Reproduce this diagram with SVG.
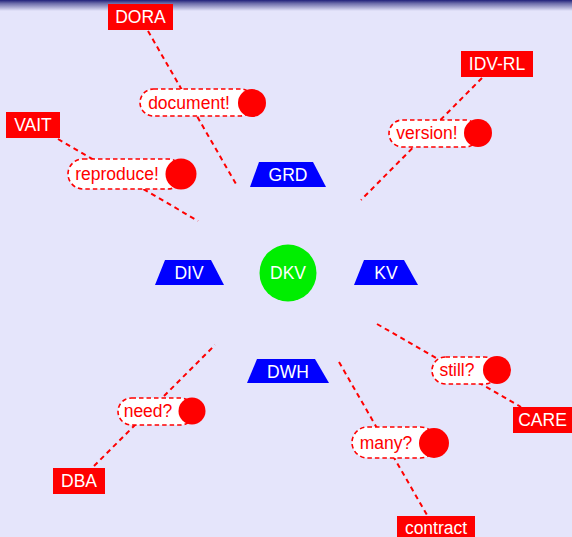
<svg xmlns="http://www.w3.org/2000/svg" width="572" height="537" viewBox="0 0 572 537">
  <defs>
    <linearGradient id="topbar" x1="0" y1="0" x2="0" y2="1">
      <stop offset="0" stop-color="#20207a"/>
      <stop offset="0.3" stop-color="#6a6aa8"/>
      <stop offset="1" stop-color="#e5e5fb"/>
    </linearGradient>
    <style>
      .lbl { font-family: "Liberation Sans", "DejaVu Sans", sans-serif; font-size: 17.5px; text-anchor: middle; }
      .white { fill: #ffffff; }
      .redtxt { fill: #ff0000; font-size: 17.5px; }
      .tag { fill: #ff0000; }
      .trap { fill: #0000ff; }
      .link { stroke: #ff0000; stroke-width: 2; stroke-dasharray: 5 4; fill: none; }
      .bubble { fill: #ffffff; stroke: #ff0000; stroke-width: 1.6; stroke-dasharray: 4.5 3; }
      .dot { fill: #ff0000; }
    </style>
  </defs>

  <!-- background -->
  <rect x="0" y="0" width="572" height="537" fill="#e5e5fb"/>
  <rect x="0" y="0" width="572" height="11" fill="url(#topbar)"/>

  <!-- connectors -->
  <g id="connectors">
    <line class="link" x1="148" y1="31" x2="236" y2="184"/>
    <line class="link" x1="58" y1="139" x2="198" y2="221"/>
    <line class="link" x1="482" y1="78" x2="361" y2="200"/>
    <line class="link" x1="94" y1="466" x2="215" y2="345"/>
    <line class="link" x1="377" y1="324" x2="521" y2="407"/>
    <line class="link" x1="339" y1="362" x2="427" y2="515"/>
  </g>

  <!-- centre -->
  <g id="dkv">
    <circle cx="288" cy="273" r="28.5" fill="#00ee00"/>
    <text class="lbl white" x="288" y="279">DKV</text>
  </g>

  <!-- areas -->
  <g id="grd">
    <polygon class="trap" points="259,162 313,162 326,187 250,187"/>
    <text class="lbl white" x="288" y="181">GRD</text>
  </g>
  <g id="div">
    <polygon class="trap" points="165,260 211,260 224,285 155,285"/>
    <text class="lbl white" x="189" y="279">DIV</text>
  </g>
  <g id="kv">
    <polygon class="trap" points="364,260 404,260 418,285 354,285"/>
    <text class="lbl white" x="386" y="279">KV</text>
  </g>
  <g id="dwh">
    <polygon class="trap" points="257,359 315,359 329,383 247,383"/>
    <text class="lbl white" x="288" y="378">DWH</text>
  </g>

  <!-- regulations / sources -->
  <g id="dora">
    <rect class="tag" x="108" y="4" width="65" height="26"/>
    <text class="lbl white" x="140.5" y="23">DORA</text>
  </g>
  <g id="vait">
    <rect class="tag" x="6" y="112" width="54" height="26"/>
    <text class="lbl white" x="33" y="131">VAIT</text>
  </g>
  <g id="idv-rl">
    <rect class="tag" x="461" y="51" width="72" height="26"/>
    <text class="lbl white" x="497" y="70">IDV-RL</text>
  </g>
  <g id="dba">
    <rect class="tag" x="53" y="468" width="52" height="26"/>
    <text class="lbl white" x="79" y="487">DBA</text>
  </g>
  <g id="care">
    <rect class="tag" x="513" y="407" width="59" height="26"/>
    <text class="lbl white" x="542.5" y="426">CARE</text>
  </g>
  <g id="contract">
    <rect class="tag" x="397" y="516" width="78" height="24"/>
    <text class="lbl white" x="436" y="534">contract</text>
  </g>

  <!-- callouts -->
  <g id="document">
    <rect class="bubble" x="140" y="89" width="114" height="27" rx="13.5"/>
    <circle class="dot" cx="252" cy="103" r="14"/>
    <text class="lbl redtxt" x="189" y="109">document!</text>
  </g>
  <g id="reproduce">
    <rect class="bubble" x="68" y="159" width="115" height="30" rx="15"/>
    <circle class="dot" cx="181" cy="174" r="15.5"/>
    <text class="lbl redtxt" x="117" y="180">reproduce!</text>
  </g>
  <g id="version">
    <rect class="bubble" x="389" y="120" width="90" height="27" rx="13.5"/>
    <circle class="dot" cx="478" cy="133" r="14"/>
    <text class="lbl redtxt" x="427" y="139">version!</text>
  </g>
  <g id="need">
    <rect class="bubble" x="118" y="398" width="76" height="27" rx="13.5"/>
    <circle class="dot" cx="192" cy="411" r="13.5"/>
    <text class="lbl redtxt" x="148" y="417">need?</text>
  </g>
  <g id="still">
    <rect class="bubble" x="432" y="357" width="66" height="27" rx="13.5"/>
    <circle class="dot" cx="497" cy="370" r="14"/>
    <text class="lbl redtxt" x="457" y="376">still?</text>
  </g>
  <g id="many">
    <rect class="bubble" x="352" y="427" width="84" height="31" rx="15.5"/>
    <circle class="dot" cx="434" cy="443" r="15"/>
    <text class="lbl redtxt" x="386" y="449">many?</text>
  </g>
</svg>
